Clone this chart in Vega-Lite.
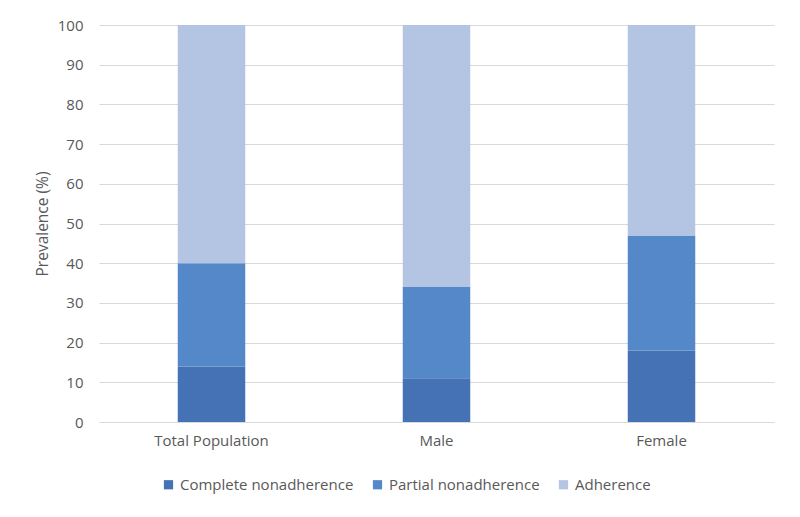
{
  "$schema": "https://vega.github.io/schema/vega-lite/v6.json",
  "width": 675,
  "height": 397,
  "autosize": {"type": "none"},
  "padding": {"left": 99, "top": 25, "right": 26, "bottom": 95},
  "background": "white",
  "config": {
    "view": {"stroke": null},
    "font": "Open Sans",
    "axis": {"labelColor": "#595959", "titleColor": "#595959", "labelFontSize": 15, "titleFontSize": 15.5, "titleFontWeight": "normal"}
  },
  "data": {
    "values": [
      {"group": "Total Population", "type": "Complete nonadherence", "order": 1, "value": 14},
      {"group": "Total Population", "type": "Partial nonadherence", "order": 2, "value": 26},
      {"group": "Total Population", "type": "Adherence", "order": 3, "value": 60},
      {"group": "Male", "type": "Complete nonadherence", "order": 1, "value": 11},
      {"group": "Male", "type": "Partial nonadherence", "order": 2, "value": 23},
      {"group": "Male", "type": "Adherence", "order": 3, "value": 66},
      {"group": "Female", "type": "Complete nonadherence", "order": 1, "value": 18},
      {"group": "Female", "type": "Partial nonadherence", "order": 2, "value": 29},
      {"group": "Female", "type": "Adherence", "order": 3, "value": 53}
    ]
  },
  "mark": {"type": "bar"},
  "encoding": {
    "x": {
      "field": "group", "type": "nominal", "sort": ["Total Population", "Male", "Female"],
      "scale": {"paddingInner": 0.7, "paddingOuter": 0.35},
      "axis": {"title": null, "labelAngle": 0, "domain": true, "domainColor": "#d9d9d9", "domainWidth": 1, "ticks": false, "labelPadding": 11, "labelFontSize": 15}
    },
    "y": {
      "field": "value", "type": "quantitative", "stack": "zero",
      "scale": {"domain": [0, 100]},
      "axis": {"title": "Prevalence (%)", "values": [0,10,20,30,40,50,60,70,80,90,100], "grid": true, "gridColor": "#d9d9d9", "gridWidth": 1, "domain": false, "ticks": false, "labelPadding": 16, "titlePadding": 7}
    },
    "color": {
      "field": "type", "type": "nominal",
      "sort": ["Complete nonadherence", "Partial nonadherence", "Adherence"],
      "scale": {"domain": ["Complete nonadherence", "Partial nonadherence", "Adherence"], "range": ["#4472B4", "#5588C8", "#B4C5E4"]},
      "legend": {"title": null, "orient": "none", "legendX": 62, "legendY": 452, "direction": "horizontal", "symbolType": "square", "symbolSize": 85, "symbolStrokeWidth": 0, "labelFontSize": 15, "labelColor": "#595959", "labelLimit": 300, "columnPadding": 16, "labelOffset": 4}
    },
    "order": {"field": "order", "type": "quantitative"}
  }
}
